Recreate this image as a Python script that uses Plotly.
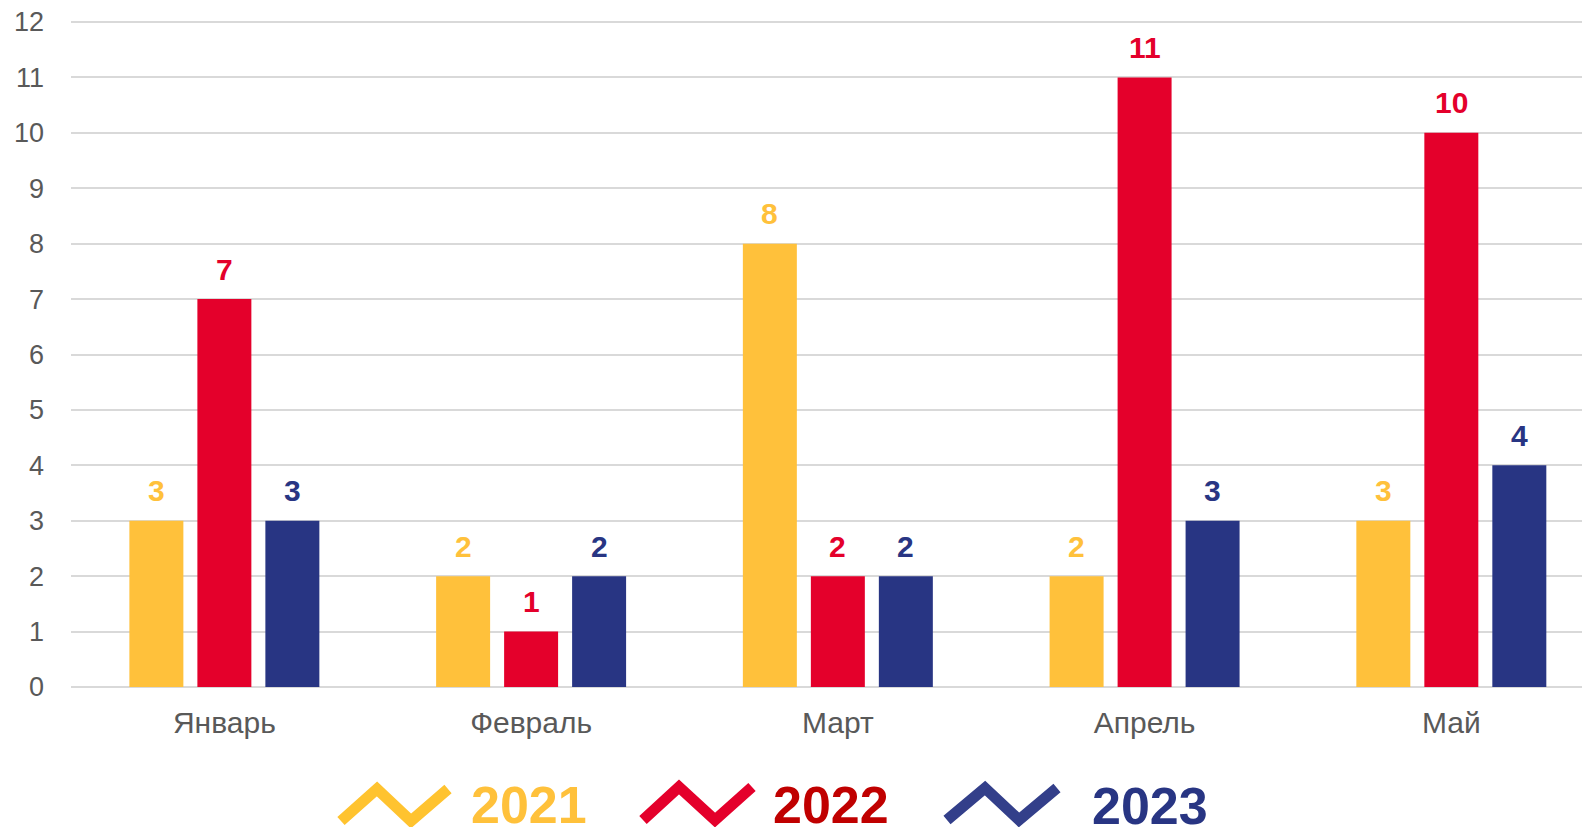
import plotly.graph_objects as go

categories = ["Январь", "Февраль", "Март", "Апрель", "Май"]
series_names = ["2021", "2022", "2023"]
values_2021 = [3, 2, 8, 2, 3]
values_2022 = [7, 1, 2, 11, 10]
values_2023 = [3, 2, 2, 3, 4]
y_ticks = list(range(0, 13))

bar_colors = ["#FFC13B", "#E4002B", "#283583"]
legend_text_colors = ["#FFC13B", "#C00000", "#283583"]
legend_icon_colors = ["#FFC32F", "#E4002B", "#333F8A"]

W, H = 1582, 827
ML, MR, MT, MB = 71, 0, 20, 140
PW, PH = W - ML - MR, H - MT - MB
Y_TOP = 12.036

all_values = [values_2021, values_2022, values_2023]

fig = go.Figure()
for name, vals, col in zip(series_names, all_values, bar_colors):
    fig.add_trace(go.Bar(
        x=categories, y=vals, name=name,
        marker=dict(color=col, line=dict(width=0)),
        showlegend=False, hoverinfo="x+y+name",
    ))

# data labels
offsets = [-68, 0, 68]
for vals, col, off in zip(all_values, bar_colors, offsets):
    for cat, v in zip(categories, vals):
        fig.add_annotation(
            x=cat, y=v, xref="x", yref="y", text=str(v), showarrow=False,
            xshift=off, yshift=30, yanchor="middle",
            font=dict(family="Liberation Sans, Arial, sans-serif", size=30,
                      color=col, weight="bold"),
        )

def px2paper(px, py):
    return (px - ML) / PW, (MT + PH - py) / PH

# custom legend: zigzag icons + texts
icons = [
    [(341, 821), (377, 789), (411, 821), (448, 789)],
    [(643, 820), (679, 787), (715, 820), (752, 787)],
    [(947, 820), (985, 788), (1019, 820), (1057, 788)],
]
text_centers = [(529, 805), (831, 805), (1150, 806)]
for name, pts, icol, tcol, tc in zip(series_names, icons, legend_icon_colors,
                                      legend_text_colors, text_centers):
    p = [px2paper(*q) for q in pts]
    path = "M %f,%f " % p[0] + " ".join("L %f,%f" % q for q in p[1:])
    fig.add_shape(type="path", path=path, xref="paper", yref="paper",
                  line=dict(color=icol, width=11), layer="above")
    tx, ty = px2paper(*tc)
    fig.add_annotation(
        x=tx, y=ty, xref="paper", yref="paper", text=name, showarrow=False,
        xanchor="center", yanchor="middle",
        font=dict(family="Liberation Sans, Arial, sans-serif", size=52,
                  color=tcol, weight="bold"),
    )

fig.update_layout(
    width=W, height=H, autosize=False,
    margin=dict(l=ML, r=MR, t=MT, b=MB, pad=0),
    paper_bgcolor="white", plot_bgcolor="white",
    barmode="group", bargap=0.335, bargroupgap=0.206,
    font=dict(family="Liberation Sans, Arial, sans-serif", color="#595959"),
    xaxis=dict(
        range=[-0.5, 4.426], showgrid=False, showline=False, zeroline=False,
        ticks="", tickfont=dict(size=30, color="#595959"),
        ticklabelstandoff=15, fixedrange=True, automargin=False,
    ),
    yaxis=dict(
        range=[0, Y_TOP], tickvals=y_ticks, showgrid=True, gridcolor="#D9D9D9",
        gridwidth=1.5, zeroline=True, zerolinecolor="#D9D9D9", zerolinewidth=1.5,
        showline=False, ticks="", tickfont=dict(size=27, color="#595959"),
        ticklabelstandoff=26, fixedrange=True, automargin=False,
    ),
)

fig.write_html(
    "out.html",
    config={"displayModeBar": False},
    post_script="document.body.style.margin='0';document.body.style.overflow='hidden';",
)
